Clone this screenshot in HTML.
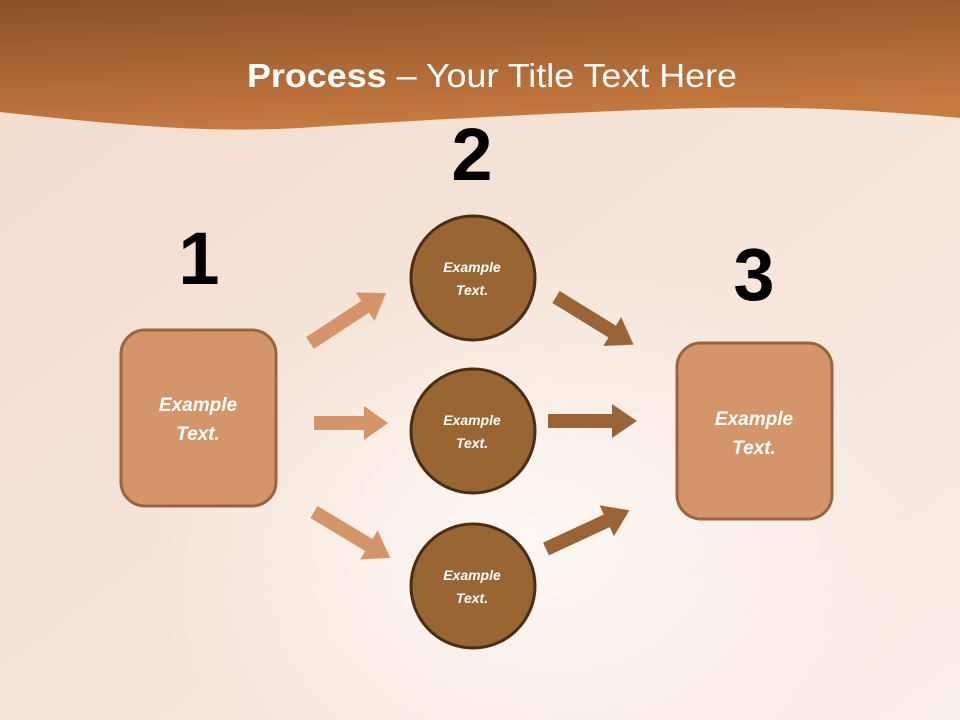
<!DOCTYPE html>
<html><head><meta charset="utf-8"><style>
html,body{margin:0;padding:0;width:960px;height:720px;overflow:hidden}
svg{display:block}
</style></head><body>
<svg width="960" height="720" viewBox="0 0 960 720" xmlns="http://www.w3.org/2000/svg" font-family="Liberation Sans, sans-serif">
<defs>
<linearGradient id="bg" x1="0" y1="0" x2="1" y2="1">
<stop offset="0" stop-color="#f1dccd"/><stop offset="0.5" stop-color="#f5e4d8"/><stop offset="1" stop-color="#f8eee8"/>
</linearGradient>
<linearGradient id="hd" x1="0" y1="0" x2="0.3" y2="1">
<stop offset="0" stop-color="#8a5028"/><stop offset="1" stop-color="#c67a40"/>
</linearGradient>
<radialGradient id="lt" cx="0.55" cy="0.75" r="0.4"><stop offset="0" stop-color="#fdf8f4"/><stop offset="1" stop-color="#fdf8f4" stop-opacity="0"/></radialGradient>
</defs>
<rect width="960" height="720" fill="url(#bg)"/>
<rect width="960" height="720" fill="url(#lt)"/>
<path d="M0 0H960V118C850 108 760 105 640 110C520 115 420 120 300 128C200 133 120 125 0 112Z" fill="url(#hd)"/>
<text x="492" y="87" text-anchor="middle" fill="#fff" font-size="33" textLength="490" lengthAdjust="spacingAndGlyphs"><tspan font-weight="bold">Process</tspan> – Your Title Text Here</text>

<g font-weight="bold" font-size="74" fill="#000" text-anchor="middle">
<text x="199" y="284">1</text>
<text x="472" y="180">2</text>
<text x="754" y="300">3</text>
</g>

<g fill="#d4956a">
<g transform="translate(310,343) rotate(-33.3)"><polygon points="0,-7 66,-7 66,-17 91,0 66,17 66,7 0,7"/></g>
<g transform="translate(314,423)"><polygon points="0,-7 50,-7 50,-17 74,0 50,17 50,7 0,7"/></g>
<g transform="translate(314,512) rotate(31)"><polygon points="0,-7 64,-7 64,-17 89,0 64,17 64,7 0,7"/></g>
</g>
<g fill="#9a6436">
<g transform="translate(556,297) rotate(31.6)"><polygon points="0,-7 66,-7 66,-17 91,0 66,17 66,7 0,7"/></g>
<g transform="translate(548,421)"><polygon points="0,-7 64,-7 64,-17 89,0 64,17 64,7 0,7"/></g>
<g transform="translate(546,549) rotate(-24.9)"><polygon points="0,-7 67,-7 67,-17 92,0 67,17 67,7 0,7"/></g>
</g>

<rect x="121" y="330" width="155" height="176" rx="24" fill="#d4956a" stroke="#9a6440" stroke-width="3"/>
<rect x="677" y="343" width="155" height="176" rx="24" fill="#d4956a" stroke="#9a6440" stroke-width="3"/>
<g fill="#996633" stroke="#4a2e14" stroke-width="3">
<circle cx="473" cy="278" r="62"/>
<circle cx="473" cy="431" r="62"/>
<circle cx="473" cy="586" r="62"/>
</g>
<g fill="#fff" font-weight="bold" font-style="italic" text-anchor="middle">
<g font-size="19">
<text x="198" y="411">Example</text><text x="198" y="440">Text.</text>
<text x="754" y="425">Example</text><text x="754" y="454">Text.</text>
</g>
<g font-size="14">
<text x="472" y="272">Example</text><text x="472" y="295">Text.</text>
<text x="472" y="425">Example</text><text x="472" y="448">Text.</text>
<text x="472" y="580">Example</text><text x="472" y="603">Text.</text>
</g>
</g>
</svg>
</body></html>
